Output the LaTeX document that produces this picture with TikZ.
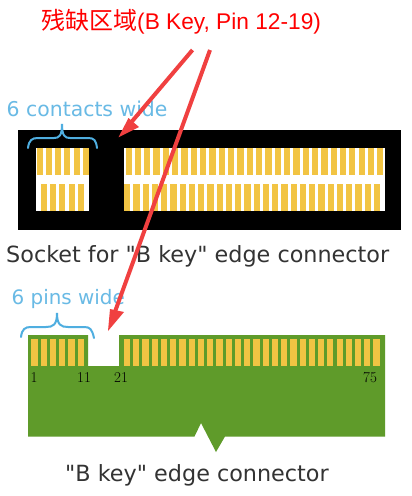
\documentclass[tikz,border=0pt]{standalone}
\usetikzlibrary{calc}
\usepackage{fontspec}
\newfontfamily\capfont{DejaVu Sans}
\newfontfamily\cjk{Noto Sans CJK SC}
\newfontfamily\arial{Liberation Sans}
\definecolor{gold}{HTML}{F2C443}
\definecolor{pcb}{HTML}{5F9B2A}
\definecolor{brace}{HTML}{4FAEE0}
\definecolor{arrowred}{HTML}{F04040}
\tikzset{
  x=1pt,y=-1pt,
  caption/.style={inner sep=0pt,text=black!80,font=\capfont\fontsize{22.3}{24}\selectfont,anchor=west},
  bluetext/.style={inner sep=0pt,text=brace!85,font=\capfont\fontsize{20.4}{24}\selectfont,anchor=west},
  bluetextb/.style={inner sep=0pt,text=brace!85,font=\capfont\fontsize{19.9}{24}\selectfont,anchor=west},
  pinlabel/.style={inner sep=0pt,text=black,font=\fontsize{15}{17}\selectfont},
  bluebrace/.style={draw=brace,line width=2pt,line cap=round},
  redarrow/.style={draw=arrowred,line width=4pt},
  redhead/.style={fill=arrowred,draw=none},
  goldbar/.style={fill=gold,draw=none}
}
\begin{document}
\begin{tikzpicture}
\useasboundingbox (0,0) rectangle (412,496);
\fill[white] (0,0) rectangle (412,496);
% socket
\fill[black] (18,129.5) rectangle (401,229.5);
\fill[white] (35.7,147.7) rectangle (89,211);
\fill[white] (124,147.7) rectangle (385,211);
\foreach \i in {0,...,5}{\fill[goldbar] ({36.7+9.2*\i},147.7) rectangle ++(6,27.5);}
\foreach \i in {0,...,4}{\fill[goldbar] ({40.7+9.3*\i},184) rectangle ++(6,27);}
\foreach \i in {0,...,27}{\fill[goldbar] ({125.5+9.32*\i},147.7) rectangle ++(6.3,27.5);}
\foreach \i in {0,...,27}{\fill[goldbar] ({124+9.25*\i},184) rectangle ++(6.4,27);}
% edge connector
\fill[pcb] (28,335) -- (88,335) -- (88,366) -- (119,366) -- (119,335) -- (385,335) -- (385,436.5) -- (225,436.5) -- (216,452) -- (201,423) -- (194.5,436.5) -- (28,436.5) -- cycle;
\foreach \i in {0,...,5}{\fill[goldbar] ({31.3+9.27*\i},339) rectangle ++(6.2,27);}
\foreach \i in {0,...,27}{\fill[goldbar] ({124+9.24*\i},339) rectangle ++(6.2,27);}
\node[pinlabel] (p1) at (34,378) {1};
\node[pinlabel] (p11) at (84,378) {11};
\node[pinlabel] (p21) at (121,378) {21};
\node[pinlabel] (p75) at (370,378) {75};
% braces
\draw[bluebrace] (28,148) .. controls (29,140) and (32,138) .. (38,138) -- (54,138) .. controls (59,138) and (62,136) .. (62,124) .. controls (62,136) and (65,138) .. (70,138) -- (88,138) .. controls (94,138) and (96,140) .. (97,148);
\draw[bluebrace] (21,337) .. controls (22,329) and (25,327) .. (31,327) -- (46,327) .. controls (53,327) and (57,325) .. (57,313) .. controls (57,325) and (61,327) .. (68,327) -- (84,327) .. controls (90,327) and (92,329) .. (94,338);
% captions
\node[bluetext] (t1) at (6.5,109) {6 contacts wide};
\node[bluetextb] (t2) at (11.5,299) {6 pins wide};
\node[caption] (c1) at (6,256) {Socket for "B key" edge connector};
\node[caption] (c2) at (65,475) {"B key" edge connector};
\node[inner sep=0pt,anchor=west,text=red] (title) at (41,21.5) {{\cjk\fontsize{24}{26}\selectfont 残缺区域}{\arial\fontsize{22.7}{26}\selectfont (B Key, Pin 12-19)}};
% arrows
\coordinate (a1s) at (192.5,50);
\coordinate (a1e) at (118.5,137.3);
\coordinate (a2s) at (210,50);
\coordinate (a2e) at (108,331);
\draw[redarrow] (a1s) -- ($(a1s)!0.86!(a1e)$);
\fill[redhead] (a1e) -- (139,127) -- (128.5,118) -- cycle;
\draw[redarrow] (a2s) -- ($(a2s)!0.93!(a2e)$);
\fill[redhead] (a2e) -- (124,312) -- (110,309) -- cycle;
\end{tikzpicture}
\end{document}
